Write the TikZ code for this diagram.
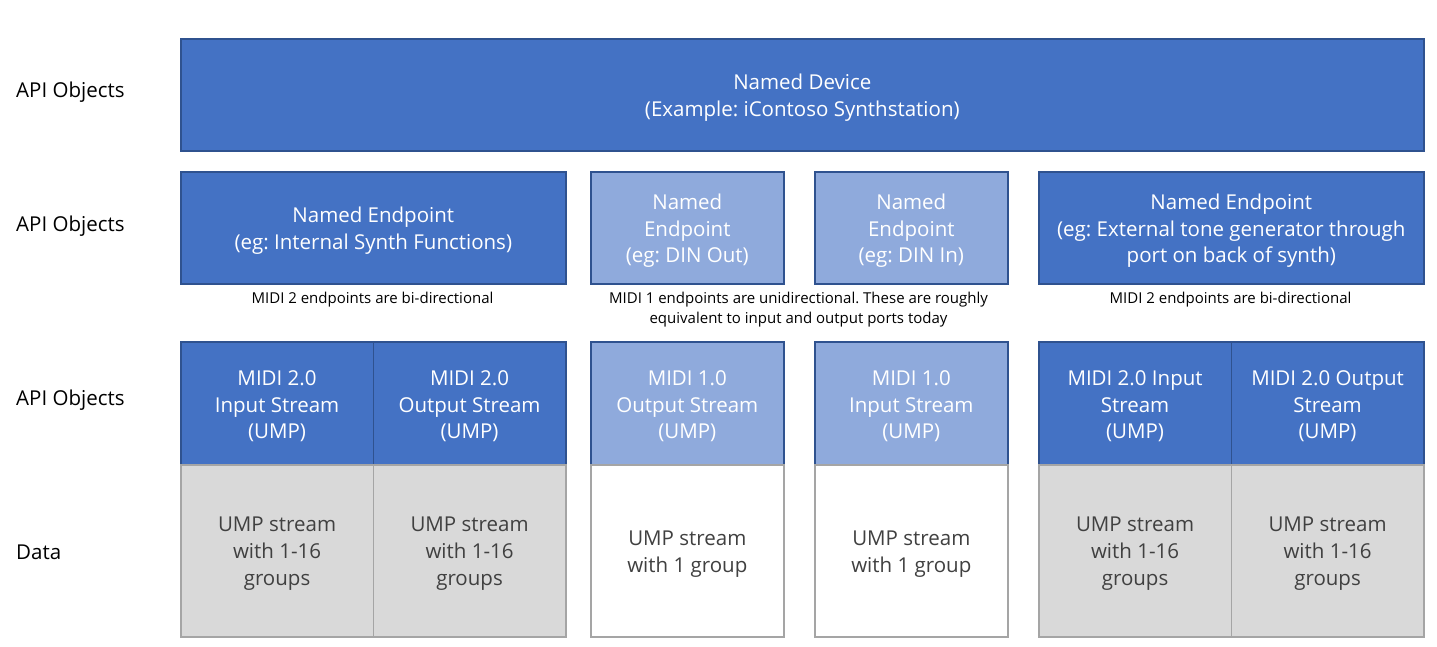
\documentclass[tikz,border=0pt]{standalone}
\usepackage{fontspec}
\setmainfont{Open Sans}
\frenchspacing
\definecolor{dblue}{HTML}{4472C4}
\definecolor{lblue}{HTML}{8FAADC}
\definecolor{bborder}{HTML}{2F528F}
\definecolor{gfill}{HTML}{D9D9D9}
\definecolor{gborder}{HTML}{A5A5A5}
\definecolor{gtext}{HTML}{404040}
\begin{document}
\begin{tikzpicture}[x=1pt,y=-1pt,
  base/.style={draw, line width=1.6pt, anchor=north west, inner sep=0pt},
  dbox/.style={base, fill=dblue, draw=bborder},
  lbox/.style={base, fill=lblue, draw=bborder},
  gbox/.style={base, fill=gfill, draw=gborder},
  wbox/.style={base, fill=white, draw=gborder},
  btxt/.style={align=center, inner sep=0pt, yshift=-3pt, font=\fontsize{20.5}{26.7}\selectfont},
  wtxt/.style={btxt, text=white},
  ktxt/.style={btxt, text=gtext},
  captxt/.style={align=center, font=\fontsize{15}{20}\selectfont, inner sep=0pt},
  side/.style={anchor=west, inner sep=0pt, font=\fontsize{20.5}{24}\selectfont}]
\useasboundingbox (0,0) rectangle (1437,647);
% side labels
\node[side] (l1) at (16,92) {API Objects};
\node[side] (l2) at (16,226) {API Objects};
\node[side] (l3) at (16,400) {API Objects};
\node[side] (l4) at (16,552) {Data};
% top
\node[dbox, minimum width=1243, minimum height=112] (dev) at (180,38) {};
\node[wtxt] (devt) at (dev.center) {Named Device\\(Example: iContoso Synthstation)};
% row 2
\node[dbox, minimum width=385, minimum height=112] (e1) at (180,171) {};
\node[wtxt] (e1t) at (e1.center) {Named Endpoint\\(eg: Internal Synth Functions)};
\node[lbox, minimum width=193, minimum height=112] (e2) at (590,171) {};
\node[wtxt] (e2t) at (e2.center) {Named\\Endpoint\\(eg: DIN Out)};
\node[lbox, minimum width=193, minimum height=112] (e3) at (814,171) {};
\node[wtxt] (e3t) at (e3.center) {Named\\Endpoint\\(eg: DIN In)};
\node[dbox, minimum width=385, minimum height=112] (e4) at (1038,171) {};
\node[wtxt] (e4t) at (e4.center) {Named Endpoint\\(eg: External tone generator through\\port on back of synth)};
% captions
\node[captxt] (c1) at (372.5,300) {MIDI 2 endpoints are bi-directional};
\node[captxt] (c2) at (798.5,310) {MIDI 1 endpoints are unidirectional. These are roughly\\equivalent to input and output ports today};
\node[captxt] (c3) at (1230.5,300) {MIDI 2 endpoints are bi-directional};
% row 3
\node[dbox, minimum width=192.5, minimum height=123] (s1) at (180,341) {};
\node[wtxt] (s1t) at (s1.center) {MIDI 2.0\\Input Stream\\(UMP)};
\node[dbox, minimum width=192.5, minimum height=123] (s2) at (372.5,341) {};
\node[wtxt] (s2t) at (s2.center) {MIDI 2.0\\Output Stream\\(UMP)};
\node[lbox, minimum width=193, minimum height=123] (s3) at (590,341) {};
\node[wtxt] (s3t) at (s3.center) {MIDI 1.0\\Output Stream\\(UMP)};
\node[lbox, minimum width=193, minimum height=123] (s4) at (814,341) {};
\node[wtxt] (s4t) at (s4.center) {MIDI 1.0\\Input Stream\\(UMP)};
\node[dbox, minimum width=192.5, minimum height=123] (s5) at (1038,341) {};
\node[wtxt] (s5t) at (s5.center) {MIDI 2.0 Input\\Stream\\(UMP)};
\node[dbox, minimum width=192.5, minimum height=123] (s6) at (1230.5,341) {};
\node[wtxt] (s6t) at (s6.center) {MIDI 2.0 Output\\Stream\\(UMP)};
% row 4
\node[gbox, minimum width=192.5, minimum height=172] (d1) at (180,464) {};
\node[ktxt] (d1t) at (d1.center) {UMP stream\\with 1-16\\groups};
\node[gbox, minimum width=192.5, minimum height=172] (d2) at (372.5,464) {};
\node[ktxt] (d2t) at (d2.center) {UMP stream\\with 1-16\\groups};
\node[wbox, minimum width=193, minimum height=172] (d3) at (590,464) {};
\node[ktxt] (d3t) at (d3.center) {UMP stream\\with 1 group};
\node[wbox, minimum width=193, minimum height=172] (d4) at (814,464) {};
\node[ktxt] (d4t) at (d4.center) {UMP stream\\with 1 group};
\node[gbox, minimum width=192.5, minimum height=172] (d5) at (1038,464) {};
\node[ktxt] (d5t) at (d5.center) {UMP stream\\with 1-16\\groups};
\node[gbox, minimum width=192.5, minimum height=172] (d6) at (1230.5,464) {};
\node[ktxt] (d6t) at (d6.center) {UMP stream\\with 1-16\\groups};
\end{tikzpicture}
\end{document}
